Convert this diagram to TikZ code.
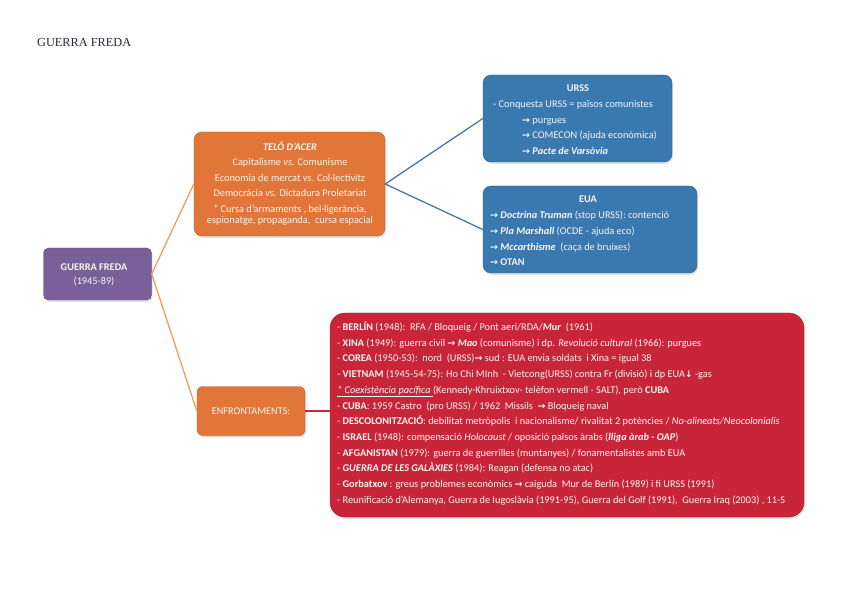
\documentclass[tikz,border=0pt]{standalone}
\usepackage{fontspec}
\setmainfont{Carlito}
\newfontfamily\serifttl{Liberation Serif}
\newfontfamily\arrowfont{DejaVu Sans}
\usetikzlibrary{shadows}
\newcommand{\rarr}{{\arrowfont\bfseries\fontsize{9.5}{10}\selectfont →}}
\newcommand{\darr}{{\arrowfont\bfseries\fontsize{9}{10}\selectfont ↓}}
\definecolor{cpurple}{RGB}{122,96,152}
\definecolor{corange}{RGB}{226,118,56}
\definecolor{cblue}{RGB}{58,120,176}
\definecolor{cred}{RGB}{200,38,56}
\definecolor{lorange}{RGB}{238,160,92}
\definecolor{lblue}{RGB}{72,120,168}
\definecolor{lred}{RGB}{200,40,60}
\definecolor{txtw}{RGB}{250,246,240}
\definecolor{ttl}{RGB}{40,40,55}
\tikzset{
  box/.style={rectangle, inner sep=0pt, draw=#1!80!black, line width=0.4pt, fill=#1,
    drop shadow={shadow xshift=1.2pt, shadow yshift=-1.8pt, opacity=0.25}},
  txt/.style={inner sep=0pt, text=txtw, font=\fontsize{10.3}{12}\selectfont},
  conn/.style={line width=1.3pt},
}
\begin{document}
\begin{tikzpicture}[x=1pt,y=-1pt]
\fill[white] (0,0) rectangle (848,593);
\useasboundingbox (0,0) rectangle (848,593);

\node[anchor=base west, inner sep=0pt, text=ttl] (title) at (37,46.5) {\serifttl\fontsize{12.3}{13}\selectfont GUERRA FREDA};

% boxes
\node[box=cpurple, rounded corners=5pt, minimum width=108pt, minimum height=52pt] (p) at (97.5,274) {};
\node[box=corange, rounded corners=8pt, minimum width=191pt, minimum height=104pt] (t) at (289.5,184) {};
\node[box=cblue, rounded corners=8pt, minimum width=189pt, minimum height=87pt] (u) at (577.5,118.5) {};
\node[box=cblue, rounded corners=8pt, minimum width=214pt, minimum height=87pt] (e) at (590,229.5) {};
\node[box=corange, rounded corners=6pt, minimum width=108pt, minimum height=49pt] (f) at (251,411) {};
\node[box=cred, rounded corners=15pt, minimum width=474pt, minimum height=204pt] (r) at (567,415) {};

% connectors
\draw[conn, lorange] (p.east) -- (t.west);
\draw[conn, lorange] (p.east) -- (f.west);
\draw[conn, lblue] (t.east) -- (u.west);
\draw[conn, lblue] (t.east) -- (e.west);
\draw[conn, lred] (f.east) -- (f.east -| r.west);

% purple text
\node[txt, anchor=base] (p1) at (94,270.5) {\bfseries GUERRA FREDA};
\node[txt, anchor=base] (p2) at (94,285) {(1945-89)};

% orange TELO text
\node[txt, anchor=base] (t1) at (290,150.5) {\bfseries\itshape TELÓ D'ACER};
\node[txt, anchor=base] (t2) at (290,166) {Capitalisme \textit{vs.} Comunisme};
\node[txt, anchor=base] (t3) at (290,181.5) {Economia de mercat \textit{vs.} Col·lectivitz};
\node[txt, anchor=base] (t4) at (290,197) {Democràcia \textit{vs.} Dictadura Proletariat};
\node[txt, anchor=base] (t5) at (290,213) {* Cursa d'armaments , bel·ligerància,};
\node[txt, anchor=base] (t6) at (290,223.5) {espionatge, propaganda,\ \ cursa espacial};

% URSS text
\node[txt, anchor=base] (u1) at (578,91.5) {\bfseries URSS};
\node[txt, anchor=base west] (u2) at (493,108) {- Conquesta URSS = països comunistes};
\node[txt, anchor=base west] (u3) at (522,123.5) {\rarr\ purgues};
\node[txt, anchor=base west] (u4) at (522,139) {\rarr\ COMECON (ajuda econòmica)};
\node[txt, anchor=base west] (u5) at (522,154.5) {\rarr\ \textbf{\textit{Pacte de Varsòvia}}};

% EUA text
\node[txt, anchor=base] (e1) at (588,202.5) {\bfseries EUA};
\node[txt, anchor=base west] (e2) at (490,219) {\rarr\ \textbf{\textit{Doctrina Truman}} (stop URSS): contenció};
\node[txt, anchor=base west] (e3) at (490,235) {\rarr\ \textbf{\textit{Pla Marshall}} (OCDE - ajuda eco)};
\node[txt, anchor=base west] (e4) at (490,250.5) {\rarr\ \textbf{\textit{Mccarthisme}}\ \ (caça de bruixes)};
\node[txt, anchor=base west] (e5) at (490,266) {\rarr\ \textbf{OTAN}};

% ENFRONTAMENTS
\node[txt, anchor=base] (f1) at (251,414.5) {ENFRONTAMENTS:};

% red box text
\foreach \t [count=\i] in {
 {- \textbf{BERLÍN} (1948):\ \ RFA / Bloqueig / Pont aeri/RDA/\textbf{\textit{Mur}}\ \ (1961)},
 {- \textbf{XINA} (1949): guerra civil \rarr\ \textbf{\textit{Mao}} (comunisme) i dp. \textit{Revolució cultural} (1966): purgues},
 {- \textbf{COREA} (1950-53):\ \ nord\ \ (URSS)\rarr\ sud : EUA envia soldats\ \ i Xina = igual 38},
 {- \textbf{VIETNAM} (1945-54-75): Ho Chi MInh\ \ - Vietcong(URSS) contra Fr (divisió) i dp EUA\darr\ -gas},
 {\underline{\textit{* Coexistència pacífica }}(Kennedy-Khruixtxov- telèfon vermell - SALT), però \textbf{CUBA}},
 {- \textbf{CUBA}: 1959 Castro\ \ (pro URSS) / 1962\ \ Missils\ \ \rarr\ Bloqueig naval},
 {- \textbf{DESCOLONITZACIÓ}: debilitat metròpolis\ \ i nacionalisme/ rivalitat 2 potències / \textit{No-alineats/Neocolonialis}},
 {- \textbf{ISRAEL} (1948): compensació \textit{Holocaust} / oposició països àrabs (\textbf{\textit{lliga àrab - OAP}})},
 {- \textbf{AFGANISTAN} (1979): guerra de guerrilles (muntanyes) / fonamentalistes amb EUA},
 {- \textbf{\textit{GUERRA DE LES GALÀXIES}} (1984): Reagan (defensa no atac)},
 {- \textbf{Gorbatxov} : greus problemes econòmics \rarr\ caiguda\ \ Mur de Berlín (1989) i fi URSS (1991)},
 {- Reunificació d'Alemanya, Guerra de Iugoslàvia (1991-95), Guerra del Golf (1991),\ \ Guerra Iraq (2003) , 11-S}
}{
 \node[txt, anchor=base west] (r\i) at (337,{330.5+15.7*(\i-1)}) {\t};
}
\end{tikzpicture}
\end{document}
